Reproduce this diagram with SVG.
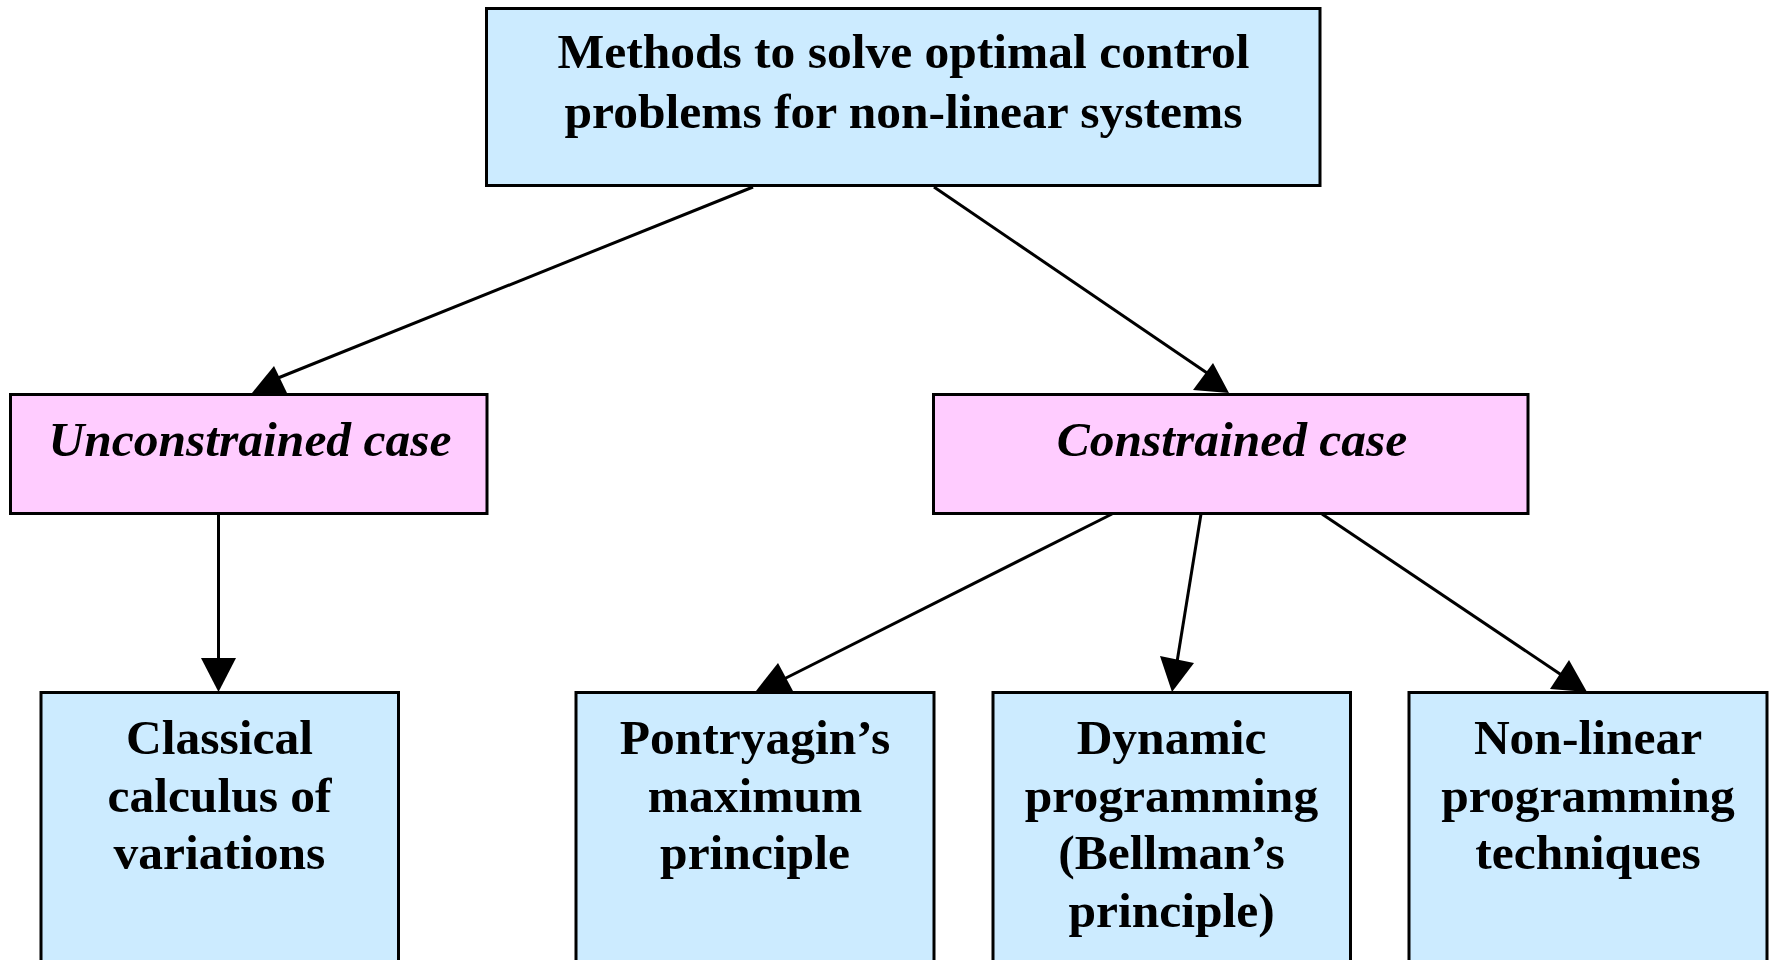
<svg xmlns="http://www.w3.org/2000/svg" width="1775" height="960" viewBox="0 0 1775 960">
<style>
.box{stroke:#000;stroke-width:3}
.blue{fill:#CCEBFF}
.pink{fill:#FFCCFF}
text{font-family:"Liberation Serif","Times New Roman",serif;font-weight:bold;font-size:49.5px;fill:#000;text-anchor:middle}
.it{font-style:italic}
.edge{stroke:#000;stroke-width:3;fill:none}
.head{fill:#000;stroke:none}
</style>
<rect width="1775" height="960" fill="#fff"/>
<g id="n-root">
<rect class="box blue" x="486.5" y="8.5" width="833.5" height="177"/>
<text x="903.5" y="68">Methods to solve optimal control</text>
<text x="903.5" y="127.5">problems for non-linear systems</text>
</g>
<g id="n-unconstrained">
<rect class="box pink" x="10.5" y="394.5" width="476.5" height="119"/>
<text class="it" x="250" y="456">Unconstrained case</text>
</g>
<g id="n-constrained">
<rect class="box pink" x="933.5" y="394.5" width="594.5" height="119"/>
<text class="it" x="1232" y="456">Constrained case</text>
</g>
<g id="n-classical">
<rect class="box blue" x="41" y="692.5" width="357.5" height="300"/>
<text x="219.5" y="754">Classical</text>
<text x="219.5" y="811.5">calculus of</text>
<text x="219.5" y="869">variations</text>
</g>
<g id="n-pontryagin">
<rect class="box blue" x="576" y="692.5" width="358" height="300"/>
<text x="755" y="754">Pontryagin’s</text>
<text x="755" y="811.5">maximum</text>
<text x="755" y="869">principle</text>
</g>
<g id="n-dynamic">
<rect class="box blue" x="993" y="692.5" width="357.5" height="300"/>
<text x="1171.5" y="754">Dynamic</text>
<text x="1171.5" y="811.5">programming</text>
<text x="1171.5" y="869">(Bellman’s</text>
<text x="1171.5" y="926.5">principle)</text>
</g>
<g id="n-nonlinear">
<rect class="box blue" x="1409" y="692.5" width="358" height="300"/>
<text x="1588" y="754">Non-linear</text>
<text x="1588" y="811.5">programming</text>
<text x="1588" y="869">techniques</text>
</g>
<g id="connectors">
<line class="edge" x1="753" y1="187" x2="278" y2="378"/>
<polygon class="head" points="252,393 287,393 274,366"/>
<line class="edge" x1="934" y1="187" x2="1210" y2="375"/>
<polygon class="head" points="1193,390 1229,393 1213,363"/>
<line class="edge" x1="218.5" y1="514" x2="218.5" y2="662"/>
<polygon class="head" points="201,658 236,658 218.5,692"/>
<line class="edge" x1="1112" y1="514" x2="782" y2="680"/>
<polygon class="head" points="756,691 793,691 778,663"/>
<line class="edge" x1="1201" y1="514" x2="1177" y2="662"/>
<polygon class="head" points="1160,656 1194,663 1172,692"/>
<line class="edge" x1="1322" y1="514" x2="1563" y2="676"/>
<polygon class="head" points="1550,689 1587,692 1569,660"/>
</g>
</svg>
